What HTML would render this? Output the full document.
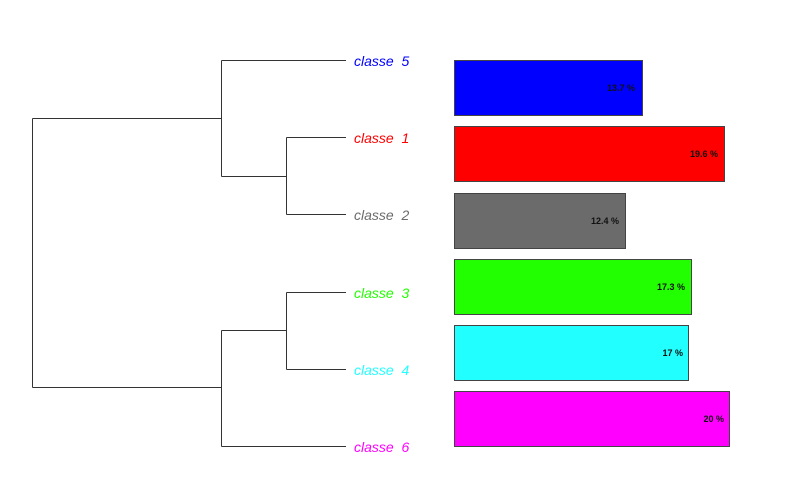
<!DOCTYPE html>
<html><head><meta charset="utf-8"><style>
html,body{margin:0;padding:0;background:#fff;}
svg{display:block;}
.lab{white-space:pre;}
</style></head><body>
<svg width="811" height="483" viewBox="0 0 811 483" xmlns="http://www.w3.org/2000/svg">
<g stroke="#333" stroke-width="1" fill="none">
<path d="M32.5 118.5V387.5M32.5 118.5H221.5M32.5 387.5H221.5"/>
<path d="M221.5 60.5V176.5M221.5 60.5H346M221.5 176.5H286.5M286.5 137.5V214.5M286.5 137.5H346M286.5 214.5H346"/>
<path d="M221.5 330.5V446.5M221.5 446.5H346M221.5 330.5H286.5M286.5 292.5V369.5M286.5 292.5H346M286.5 369.5H346"/>
</g>
<g font-family="Liberation Sans, sans-serif" font-style="italic" font-size="14">
<text class="lab" x="354" y="66" fill="#0000ff">classe  5</text>
<text class="lab" x="354" y="143" fill="#ff0000">classe  1</text>
<text class="lab" x="354" y="220" fill="#6b6b6b">classe  2</text>
<text class="lab" x="354" y="298" fill="#22ff00">classe  3</text>
<text class="lab" x="354" y="375" fill="#22ffff">classe  4</text>
<text class="lab" x="354" y="452" fill="#ff00ff">classe  6</text>
</g>
<g stroke="#444" stroke-width="1">
<rect x="454.5" y="60.5" width="188" height="55" fill="#0000ff"/>
<rect x="454.5" y="126.5" width="270" height="55" fill="#ff0000"/>
<rect x="454.5" y="193.5" width="171" height="55" fill="#6b6b6b"/>
<rect x="454.5" y="259.5" width="237" height="55" fill="#22ff00"/>
<rect x="454.5" y="325.5" width="234" height="55" fill="#22ffff"/>
<rect x="454.5" y="391.5" width="275" height="55" fill="#ff00ff"/>
</g>
<g font-family="Liberation Sans, sans-serif" font-size="9" font-weight="bold" fill="#111" text-anchor="end">
<text x="635" y="91">13.7 %</text>
<text x="718" y="157">19.6 %</text>
<text x="619" y="224">12.4 %</text>
<text x="685" y="290">17.3 %</text>
<text x="683" y="356">17 %</text>
<text x="724" y="422">20 %</text>
</g>
</svg>
</body></html>
